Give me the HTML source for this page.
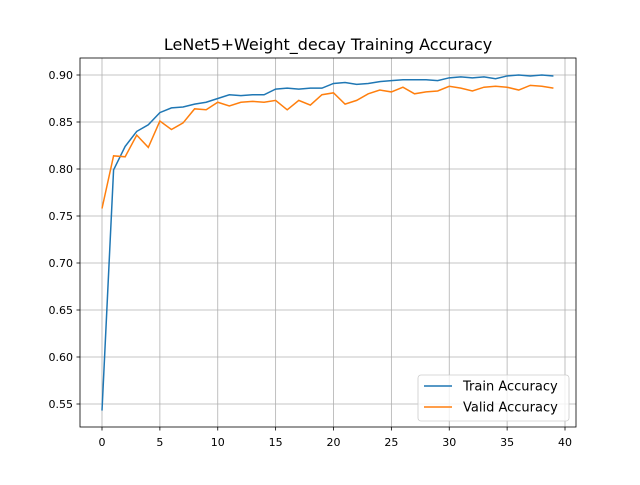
<!DOCTYPE html>
<html><head><meta charset="utf-8"><style>
body{margin:0;background:#fff;}
svg text{font-family:"DejaVu Sans","Liberation Sans",sans-serif;}
</style></head><body>
<svg id="chart" width="640" height="480" xmlns="http://www.w3.org/2000/svg">
<rect width="640" height="480" fill="#fff"/>
<text x="328" y="50" font-size="16" text-anchor="middle" fill="#000">LeNet5+Weight_decay Training Accuracy</text>
<g id="grid"></g>
<g id="series"></g>
<rect x="80" y="58" width="496" height="369" fill="none" stroke="#000" stroke-width="0.8"/>
<g id="ticks"></g>
<g>
<rect x="418" y="375" width="151" height="46" rx="3" fill="#fff" fill-opacity="0.8" stroke="#ccc" stroke-width="0.8"/>
<line x1="424" y1="386" x2="452" y2="386" stroke="#1f77b4" stroke-width="1.5"/>
<text x="463" y="390.5" font-size="13">Train Accuracy</text>
<line x1="424" y1="407" x2="452" y2="407" stroke="#ff7f0e" stroke-width="1.5"/>
<text x="463" y="411.5" font-size="13">Valid Accuracy</text>
</g>
</svg>
<script>
const train=[0.543,0.799,0.824,0.840,0.847,0.860,0.865,0.866,0.869,0.871,0.875,0.879,0.878,0.879,0.879,0.885,0.886,0.885,0.886,0.886,0.891,0.892,0.890,0.891,0.893,0.894,0.895,0.895,0.895,0.894,0.897,0.898,0.897,0.898,0.896,0.899,0.900,0.899,0.900,0.899];
const valid=[0.758,0.814,0.813,0.836,0.823,0.851,0.842,0.849,0.864,0.863,0.871,0.867,0.871,0.872,0.871,0.873,0.863,0.873,0.868,0.879,0.881,0.869,0.873,0.880,0.884,0.882,0.887,0.880,0.882,0.883,0.888,0.886,0.883,0.887,0.888,0.887,0.884,0.889,0.888,0.886];
const xTicks=[0,5,10,15,20,25,30,35,40];
const yTicks=[0.55,0.60,0.65,0.70,0.75,0.80,0.85,0.90];
const NS="http://www.w3.org/2000/svg";
const X=v=>102+v*11.575;
const Y=v=>75+(0.90-v)*940;
function mk(tag,attrs,parent){const e=document.createElementNS(NS,tag);for(const k in attrs)e.setAttribute(k,attrs[k]);document.getElementById(parent).appendChild(e);return e;}
xTicks.forEach(t=>{
const g=mk('line',{x1:X(t),x2:X(t),y1:58,y2:427,stroke:'#b0b0b0','stroke-width':0.8},'grid');


mk('line',{x1:X(t),x2:X(t),y1:427,y2:430.5,stroke:'#000','stroke-width':0.8},'ticks');
const tx=mk('text',{x:X(t),y:446,'font-size':11,'text-anchor':'middle'},'ticks');
tx.textContent=t;


});
yTicks.forEach(t=>{
const g=mk('line',{x1:80,x2:576,y1:Y(t),y2:Y(t),stroke:'#b0b0b0','stroke-width':0.8},'grid');


mk('line',{x1:76.5,x2:80,y1:Y(t),y2:Y(t),stroke:'#000','stroke-width':0.8},'ticks');
const tx=mk('text',{x:73,y:Y(t)+4,'font-size':11,'text-anchor':'end'},'ticks');
tx.textContent=t.toFixed(2);


});
function line(arr,color,name){
const p=mk('polyline',{points:arr.map((v,i)=>X(i)+','+Y(v)).join(' '),fill:'none',stroke:color,'stroke-width':1.5},'series');


}
line(train,'#1f77b4','train-accuracy-line');
line(valid,'#ff7f0e','valid-accuracy-line');
</script>
</body></html>
